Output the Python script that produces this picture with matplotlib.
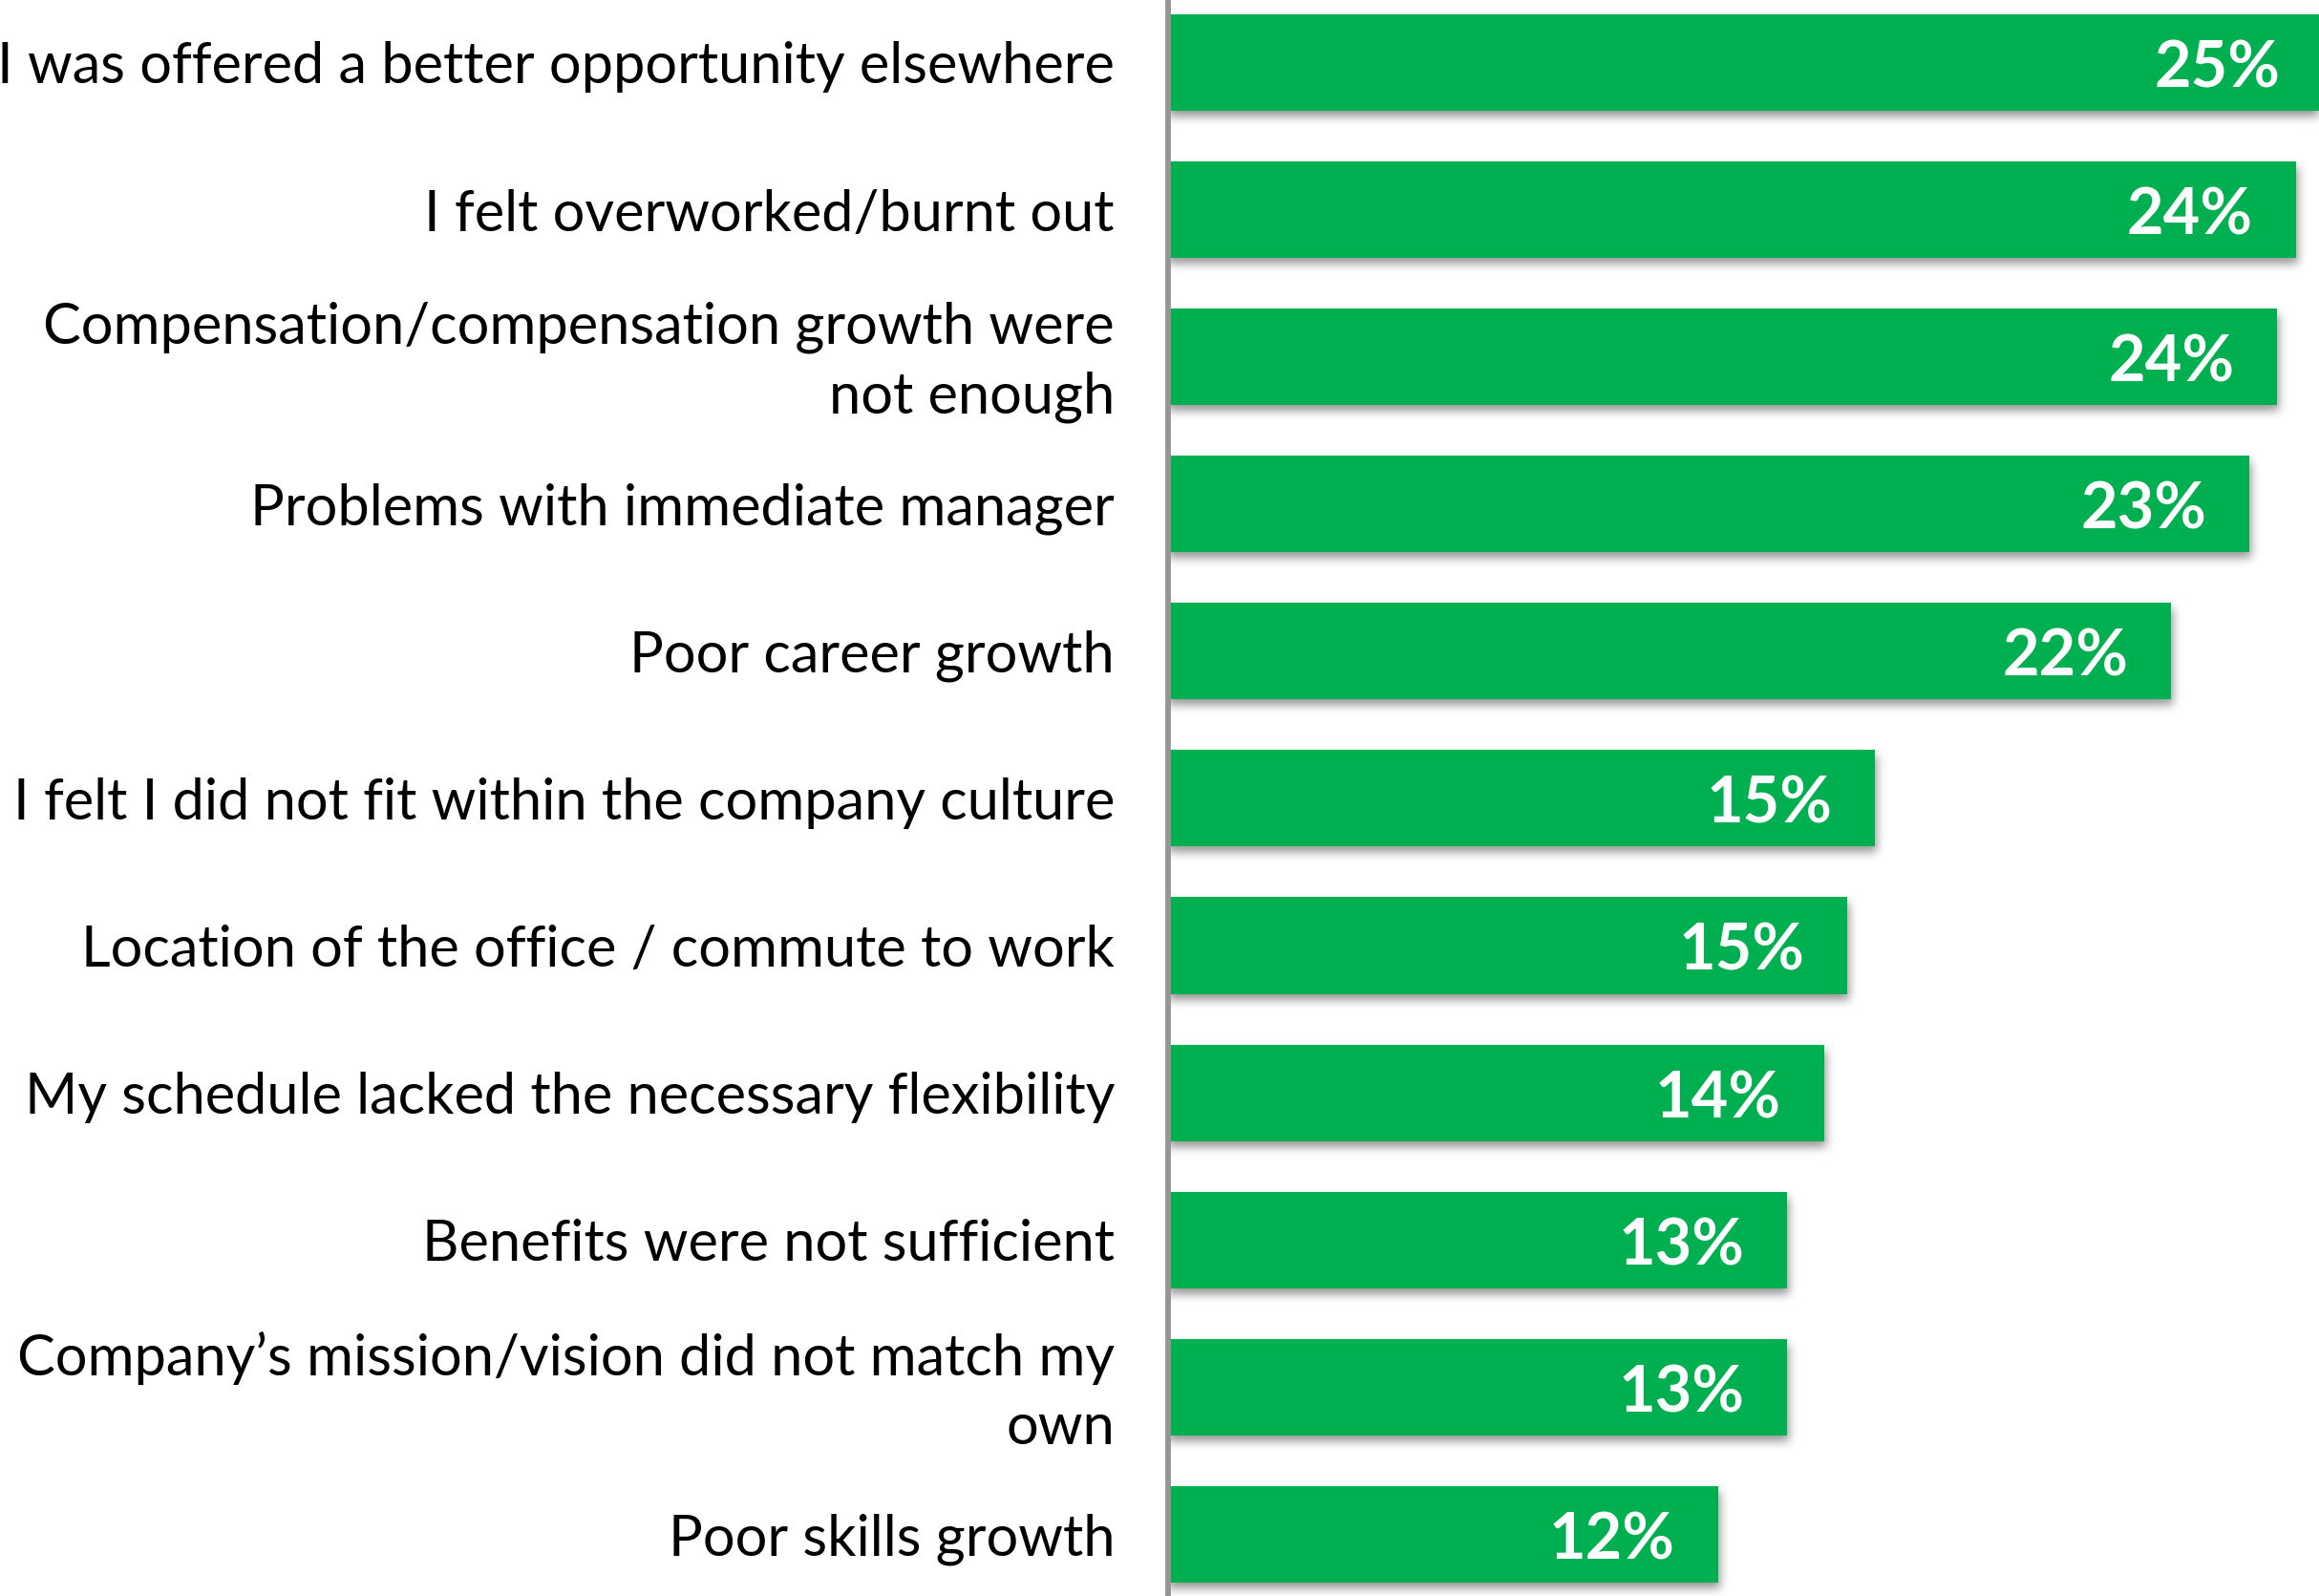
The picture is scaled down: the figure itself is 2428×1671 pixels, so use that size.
import matplotlib
matplotlib.use("Agg")
import matplotlib.pyplot as plt
import numpy as np

plt.rcParams["font.family"] = ["Lato", "DejaVu Sans"]

# Reasons for leaving, top to bottom
reasons = [
    "I was offered a better opportunity elsewhere",
    "I felt overworked/burnt out",
    "Compensation/compensation growth were\nnot enough",
    "Problems with immediate manager",
    "Poor career growth",
    "I felt I did not fit within the company culture",
    "Location of the office / commute to work",
    "My schedule lacked the necessary flexibility",
    "Benefits were not sufficient",
    "Company\u2019s mission/vision did not match my\nown",
    "Poor skills growth",
]
shares = [25.0, 24.4, 24.0, 23.4, 21.7, 15.3, 14.7, 14.2, 13.4, 13.4, 11.9]

W, H, DPI = 2428, 1671, 200
left_px = 1223
ax_w = W - left_px

fig = plt.figure(figsize=(W / DPI, H / DPI), dpi=DPI)
ax = fig.add_axes([left_px / W, 0, ax_w / W, 1])

xmax = 24.9
ytop, ybot = -0.425, 10.42
ax.set_xlim(0, xmax)
ax.set_ylim(ybot, ytop)

# size of one pixel in data units
px_x = xmax / ax_w
px_y = (ybot - ytop) / H

bar_h = 0.656
green = "#00B050"
pos = np.arange(len(reasons))

# drop shadow: offset mask of the bars, gaussian blurred, shown as an image
mask = np.zeros((H, ax_w))
dx, dy = 2, 6
for i, v in enumerate(shares):
    r0 = int(round((i - bar_h / 2 - ytop) / px_y)) + dy
    r1 = int(round((i + bar_h / 2 - ytop) / px_y)) + dy
    c1 = int(round(v / px_x)) + dx
    mask[max(r0, 0):min(r1, H), 0:min(c1, ax_w)] = 1.0

sigma = 5.0
k = np.arange(-16, 17)
kern = np.exp(-k ** 2 / (2 * sigma ** 2))
kern /= kern.sum()
blur = np.apply_along_axis(lambda r: np.convolve(r, kern, mode="same"), 1, mask)
blur = np.apply_along_axis(lambda c: np.convolve(c, kern, mode="same"), 0, blur)

shadow = np.zeros((H, ax_w, 4))
shadow[..., 3] = 0.42 * blur
ax.imshow(shadow, extent=(0, xmax, ybot, ytop), aspect="auto",
          interpolation="bilinear", zorder=1)

ax.barh(pos, shares, height=bar_h, color=green, zorder=2)

# value labels inside the bar ends
for i, v in enumerate(shares):
    ax.text(v - 45 * px_x, i + 26 * px_y, f"{v:.0f}%", ha="right", va="baseline",
            color="white", fontweight="bold", fontsize=24, zorder=3)

# category labels left of the axis line
for i, lab in enumerate(reasons):
    if "\n" in lab:
        ax.text(-56 * px_x, i + 6 * px_y, lab, ha="right", va="center",
                linespacing=1.42, fontsize=21.45, clip_on=False)
    else:
        ax.text(-56 * px_x, i, lab, ha="right", va="center_baseline",
                fontsize=21.45, clip_on=False)

ax.set_yticks([])
ax.set_xticks([])
ax.set_xlim(0, xmax)
ax.set_ylim(ybot, ytop)

for side in ["top", "right", "bottom"]:
    ax.spines[side].set_visible(False)
ax.spines["left"].set_color("#959595")
ax.spines["left"].set_linewidth(2.1)
ax.spines["left"].set_zorder(5)

fig.savefig("out.png", dpi=DPI)
